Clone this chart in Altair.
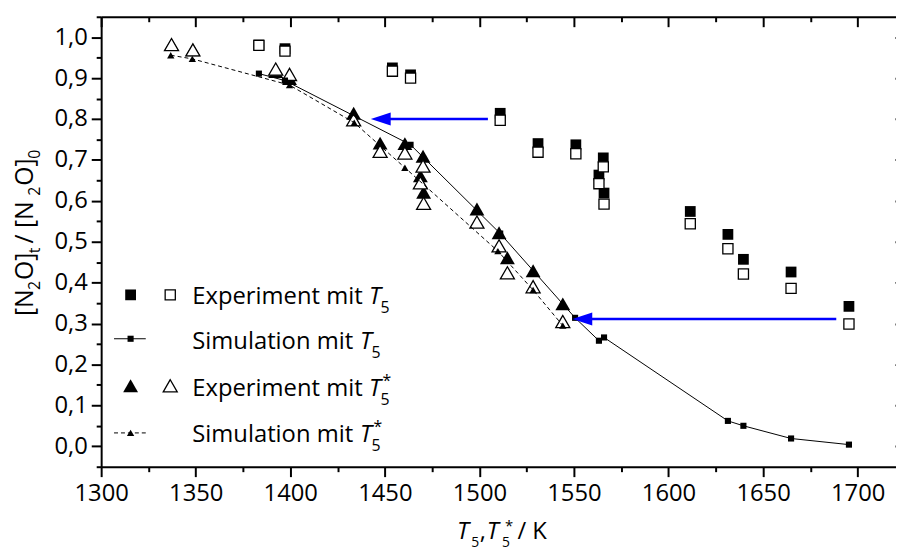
import altair as alt
import pandas as pd

# ---------------- data ----------------
# Experiment mit T5 : filled and open squares
exp_t5_T = [1383.4, 1397.2, 1454.0, 1463.6, 1511.0, 1531.0, 1551.0, 1565.5, 1563.2, 1565.9,
            1611.5, 1631.4, 1639.6, 1664.8, 1695.4]
exp_t5_filled = [0.981, 0.972, 0.925, 0.908, 0.814, 0.740, 0.737, 0.705, 0.663, 0.619,
                 0.574, 0.518, 0.457, 0.426, 0.342]
exp_t5_open = [0.980, 0.966, 0.917, 0.900, 0.797, 0.719, 0.715, 0.683, 0.642, 0.592,
               0.544, 0.483, 0.421, 0.386, 0.299]

# Simulation mit T5 : small squares, solid line
sim_t5_T = [1383.4, 1397.2, 1463.6, 1511.0, 1550.6, 1563.2, 1565.9, 1631.4, 1639.6, 1664.8, 1695.4]
sim_t5 = [0.911, 0.894, 0.737, 0.520, 0.314, 0.258, 0.266, 0.062, 0.050, 0.019, 0.004]

# Experiment mit T5* : filled and open triangles
exp_t5s_T = [1337.2, 1348.5, 1392.3, 1399.6, 1433.5, 1447.5, 1460.6, 1470.2, 1468.8, 1470.5,
             1498.7, 1510.4, 1514.8, 1528.4, 1544.1]
exp_t5s_filled = [0.982, 0.969, 0.916, 0.899, 0.814, 0.741, 0.740, 0.709, 0.661, 0.621,
                  0.580, 0.522, 0.461, 0.429, 0.348]
exp_t5s_open = [0.982, 0.969, 0.922, 0.909, 0.798, 0.721, 0.717, 0.685, 0.644, 0.594,
                0.548, 0.490, 0.424, 0.390, 0.305]

# Simulation mit T5* : small triangles, dashed line
sim_t5s_T = [1336.8, 1348.2, 1399.6, 1433.8, 1460.6, 1509.8, 1528.4, 1544.1]
sim_t5s = [0.956, 0.947, 0.883, 0.791, 0.681, 0.477, 0.382, 0.295]

# blue arrows (tail, tip, level)
arrow_from = [1504.5, 1688.7]
arrow_to = [1442.6, 1549.2]
arrow_y = [0.800, 0.311]

x_ticks = list(range(1300, 1726, 25))
y_ticks = [round(-0.05 + 0.05 * i, 2) for i in range(23)]

legend_rows = ["Experiment mit ", "Simulation mit ", "Experiment mit ", "Simulation mit "]

# ---------------- layout ----------------
W, H = 811, 454
LEFT, TOP = 102.0, 14.4          # page position of the plot area
FONT = "Open Sans"

def gx(px):
    return px - LEFT

def gy(py):
    return py - TOP

xscale = alt.Scale(domain=[1300, 1725], nice=False, zero=False)
yscale = alt.Scale(domain=[-0.05, 1.05], nice=False, zero=False)

XMAJ = "datum.value % 50 === 0"
YMAJ = "abs(datum.value * 10 - round(datum.value * 10)) < 0.001"

common = dict(domainColor="black", domainWidth=2, tickColor="black", tickWidth=2,
              grid=False, labelOverlap=False, labelFlush=False)

ax_bottom = alt.Axis(orient="bottom", values=x_ticks, format="d",
                     labelExpr=f"{XMAJ} ? datum.label : ''",
                     tickSize={"condition": {"test": XMAJ, "value": 10}, "value": 5},
                     labelFont=FONT, labelFontSize=24, labelColor="black", labelPadding=5,
                     **common)
ax_top = alt.Axis(orient="bottom", offset=-H, values=x_ticks, labels=False,
                  tickSize={"condition": {"test": XMAJ, "value": 10}, "value": 5}, **common)
ax_left = alt.Axis(orient="left", values=y_ticks,
                   labelExpr=f"{YMAJ} ? replace(format(datum.value, '.1f'), '.', ',') : ''",
                   tickSize={"condition": {"test": YMAJ, "value": 10}, "value": 5},
                   labelFont=FONT, labelFontSize=24, labelColor="black", labelPadding=4,
                   **common)
ax_right = alt.Axis(orient="left", offset=-W, values=y_ticks, labels=False,
                    tickSize={"condition": {"test": YMAJ, "value": 10}, "value": 5}, **common)

def df(xs, ys):
    return pd.DataFrame({"T": xs, "v": ys})

def enc(xaxis=None, yaxis=None):
    return dict(
        x=alt.X("T:Q", scale=xscale, axis=xaxis, title=None),
        y=alt.Y("v:Q", scale=yscale, axis=yaxis, title=None),
    )

layers = []

# experiment squares
layers.append(alt.Chart(df(exp_t5_T, exp_t5_filled)).mark_point(
    shape="square", filled=True, color="black", size=118, opacity=1
).encode(**enc(ax_bottom, ax_left)))
layers.append(alt.Chart(df(exp_t5_T, exp_t5_open)).mark_point(
    shape="square", filled=True, fill="white", stroke="black", strokeWidth=1.3, size=105, opacity=1
).encode(**enc(ax_top, ax_right)))

# experiment triangles
layers.append(alt.Chart(df(exp_t5s_T, exp_t5s_filled)).mark_point(
    shape="triangle-up", filled=True, color="black", size=225, opacity=1
).encode(**enc()))
layers.append(alt.Chart(df(exp_t5s_T, exp_t5s_open)).mark_point(
    shape="triangle-up", filled=True, fill="white", stroke="black", strokeWidth=1.3, size=200, opacity=1
).encode(**enc()))

# simulations
layers.append(alt.Chart(df(sim_t5_T, sim_t5)).mark_line(color="black", strokeWidth=1).encode(**enc()))
layers.append(alt.Chart(df(sim_t5_T, sim_t5)).mark_point(
    shape="square", filled=True, color="black", size=38, opacity=1).encode(**enc()))
layers.append(alt.Chart(df(sim_t5s_T, sim_t5s)).mark_line(
    color="black", strokeWidth=1, strokeDash=[4, 3]).encode(**enc()))
layers.append(alt.Chart(df(sim_t5s_T, sim_t5s)).mark_point(
    shape="triangle-up", filled=True, color="black", size=55, opacity=1).encode(**enc()))

# arrows
arr = pd.DataFrame({"xs": arrow_from, "xe": [t + 9 for t in arrow_to], "tip": arrow_to, "v": arrow_y})
layers.append(alt.Chart(arr).mark_rule(color="#0000ff", strokeWidth=2.5).encode(
    x=alt.X("xs:Q", scale=xscale, axis=None, title=None),
    x2="xe:Q",
    y=alt.Y("v:Q", scale=yscale, axis=None, title=None)))
layers.append(alt.Chart(arr).mark_point(
    shape="M0,0L2,-0.65L2,0.65Z", filled=True, color="#0000ff", size=400, opacity=1).encode(
    x=alt.X("tip:Q", scale=xscale, axis=None, title=None),
    y=alt.Y("v:Q", scale=yscale, axis=None, title=None)))

# ---------------- legend ----------------
dummy = pd.DataFrame({"k": [0]})

def sym(px, py, **kw):
    return alt.Chart(dummy).mark_point(opacity=1, **kw).encode(x=alt.value(gx(px)), y=alt.value(gy(py)))

def hline(x1, x2, py, **kw):
    return alt.Chart(dummy).mark_rule(color="black", strokeWidth=1, **kw).encode(
        x=alt.value(gx(x1)), x2=alt.value(gx(x2)), y=alt.value(gy(py)))

layers += [
    sym(131.7, 295.0, shape="square", filled=True, color="black", size=118),
    sym(171.7, 295.0, shape="square", filled=True, fill="white", stroke="black", strokeWidth=1.3, size=105),
    hline(115, 147, 339.3),
    sym(131.7, 339.3, shape="square", filled=True, color="black", size=38),
    sym(131.7, 386.7, shape="triangle-up", filled=True, color="black", size=225),
    sym(171.7, 386.7, shape="triangle-up", filled=True, fill="white", stroke="black", strokeWidth=1.3, size=200),
    hline(115, 147, 434.3, strokeDash=[4, 3]),
    sym(131.7, 434.3, shape="triangle-up", filled=True, color="black", size=55),
]

# ---------------- text ----------------
CW = {' ': 0.26, '[': 0.30, ']': 0.30, 'N': 0.752, 'O': 0.781, '/': 0.36, 't': 0.352,
      'T': 0.551, ',': 0.245, '*': 0.53, 'K': 0.613, 'E': 0.556, 'x': 0.517, 'p': 0.613,
      'e': 0.561, 'r': 0.408, 'i': 0.258, 'm': 0.931, 'n': 0.613, 'S': 0.547, 'u': 0.613,
      'l': 0.258, 'a': 0.556, 'o': 0.602}

def tw(s, size):
    return sum(CW.get(c, 0.572) for c in s) * size

def txt(s, px, py, size, italic=False, angle=0):
    kw = dict(font=FONT, fontSize=size, align="left", baseline="alphabetic", color="black")
    if italic:
        kw["fontStyle"] = "italic"
    if angle:
        kw["angle"] = angle
    return alt.Chart(dummy).mark_text(**kw).encode(
        x=alt.value(gx(px)), y=alt.value(gy(py)), text=alt.value(s))

# legend labels
legend_base = [304.3, 350.0, 396.7, 443.5]
for i, (lab, b) in enumerate(zip(legend_rows, legend_base)):
    layers.append(txt(lab, 194, b, 24))
    tx = 194 + tw(lab, 24)
    layers.append(txt("T", tx, b, 24, italic=True))
    layers.append(txt("5", tx + 11.5, b + 9, 16))
    if i >= 2:
        layers.append(txt("*", tx + 13.5, b - 10, 16))

# x title
layers += [
    txt("T", 461, 541, 24, italic=True),
    txt("5", 475.5, 549, 14),
    txt(",", 484, 541, 24),
    txt("T", 491, 541, 24, italic=True),
    txt("*", 509.5, 533, 15),
    txt("5", 506.5, 549, 14),
    txt("/ K", 522, 541, 24),
]

# y title (rotated, reading upwards); small gap after each subscript
yruns = [("[N", 25, 0, 0), ("2", 16, 7, 1), ("O]", 25, 0, 0), ("t", 16, 7, 4),
         (" / [N", 25, 0, 0), ("2", 16, 7, 1), ("O]", 25, 0, 0), ("0", 16, 7, 0)]
total = sum(tw(s, z) + g for s, z, _, g in yruns)
ycur = 232.5 + total / 2
for s, z, sh, g in yruns:
    layers.append(txt(s, 33 + sh, ycur, z, angle=270))
    ycur -= tw(s, z) + g

chart = alt.layer(*layers).resolve_axis(x="independent", y="independent").properties(
    width=W, height=H,
    autosize=alt.AutoSizeParams(type="none"),
    padding={"left": 94, "top": 6.4, "right": -9, "bottom": 83},
    background="white",
).configure_view(strokeWidth=0)

chart.save("out.html", embed_options={"renderer": "svg", "actions": False})
